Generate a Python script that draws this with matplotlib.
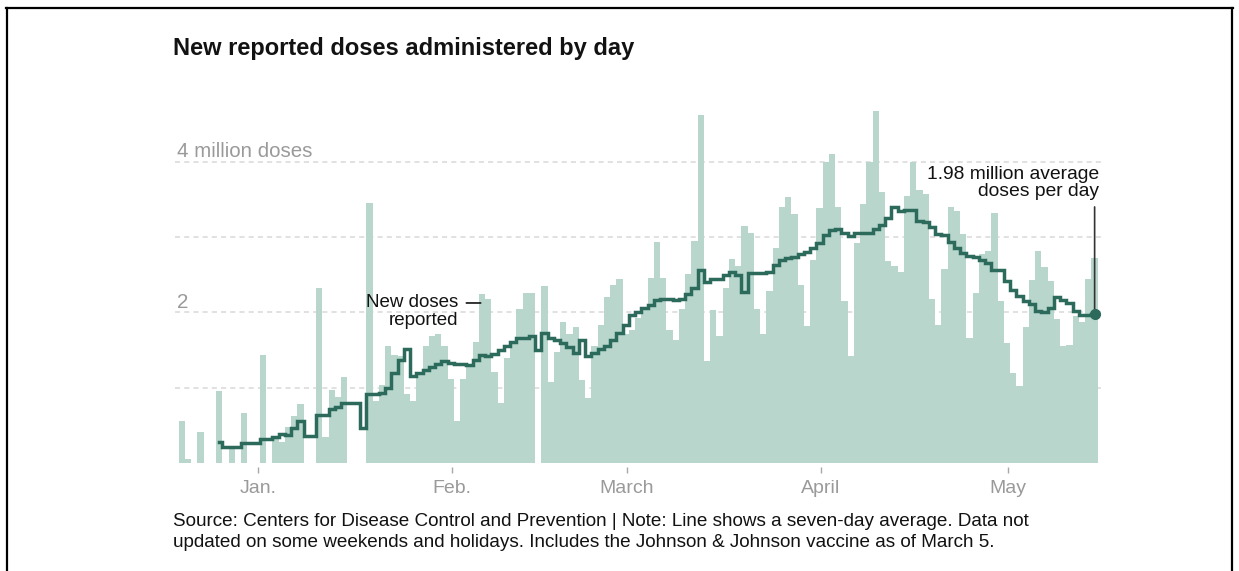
import datetime as dt
import matplotlib
matplotlib.use("Agg")
import matplotlib.pyplot as plt
import matplotlib.dates as mdates
from matplotlib.lines import Line2D

plt.rcParams['font.family'] = ['Liberation Sans', 'DejaVu Sans']

# daily reported doses, millions, starting Dec. 19, 2020
start = dt.date(2020, 12, 19)
doses = [
    0.56, 0.05, 0, 0.41, 0, 0, 0.95, 0, 0.19, 0,
    0.67, 0, 0, 1.44, 0, 0.35, 0.28, 0.48, 0.62, 0.78,
    0, 0, 2.32, 0.35, 0.97, 0.88, 1.14, 0, 0, 0,
    3.45, 0.82, 1.03, 1.56, 1.44, 1.42, 0.91, 0.82, 1.20, 1.55,
    1.68, 1.71, 1.56, 1.12, 0.56, 1.12, 1.30, 1.61, 2.24, 2.18,
    1.21, 0.80, 1.40, 1.62, 2.04, 2.26, 2.26, 0, 2.35, 1.08,
    1.48, 1.87, 1.71, 1.80, 1.10, 0.86, 1.55, 1.83, 2.20, 2.37,
    2.45, 1.71, 1.77, 1.93, 2.04, 2.46, 2.93, 2.46, 1.76, 1.63,
    2.05, 2.51, 2.95, 4.62, 1.36, 2.03, 1.68, 2.32, 2.71, 2.62,
    3.15, 3.06, 2.05, 1.71, 2.28, 2.85, 3.40, 3.53, 3.31, 2.37,
    1.82, 2.69, 3.38, 4.00, 4.11, 3.40, 2.15, 1.42, 2.92, 3.44,
    4.00, 4.68, 3.60, 2.68, 2.62, 2.54, 3.55, 4.00, 3.63, 3.57,
    2.18, 1.83, 2.57, 3.40, 3.34, 3.04, 1.66, 2.26, 2.77, 2.82,
    3.32, 2.15, 1.60, 1.20, 1.02, 1.80, 2.43, 2.82, 2.60, 2.42,
    1.91, 1.55, 1.57, 1.95, 1.87, 2.44, 2.72,
]

# seven-day average, millions, starting Dec. 25, 2020
avg_start = dt.date(2020, 12, 25)
avg = [
    0.28, 0.21, 0.21, 0.21,
    0.27, 0.27, 0.27, 0.32, 0.32, 0.35, 0.39, 0.37, 0.46, 0.56,
    0.36, 0.36, 0.64, 0.64, 0.72, 0.75, 0.80, 0.80, 0.80, 0.46,
    0.92, 0.91, 0.93, 0.99, 1.19, 1.37, 1.51, 1.15, 1.19, 1.24,
    1.27, 1.31, 1.35, 1.33, 1.32, 1.31, 1.30, 1.37, 1.44, 1.42,
    1.45, 1.50, 1.56, 1.61, 1.66, 1.66, 1.68, 1.50, 1.73, 1.66,
    1.63, 1.60, 1.54, 1.46, 1.63, 1.42, 1.46, 1.52, 1.55, 1.64,
    1.73, 1.83, 1.96, 2.01, 2.06, 2.10, 2.16, 2.18, 2.18, 2.16,
    2.18, 2.25, 2.32, 2.56, 2.40, 2.44, 2.45, 2.49, 2.53, 2.49,
    2.27, 2.52, 2.52, 2.52, 2.53, 2.63, 2.69, 2.72, 2.73, 2.77,
    2.80, 2.85, 2.92, 3.03, 3.09, 3.11, 3.06, 3.02, 3.05, 3.05,
    3.05, 3.11, 3.16, 3.25, 3.40, 3.34, 3.36, 3.36, 3.22, 3.20,
    3.13, 3.04, 3.03, 2.94, 2.85, 2.79, 2.75, 2.73, 2.70, 2.66,
    2.56, 2.56, 2.42, 2.30, 2.22, 2.15, 2.11, 2.02, 2.00, 2.06,
    2.20, 2.17, 2.12, 2.02, 1.96, 1.96, 1.98,
]

month_ticks = [dt.date(2021, 1, 1), dt.date(2021, 2, 1), dt.date(2021, 3, 1),
               dt.date(2021, 4, 1), dt.date(2021, 5, 1)]
month_labels = ["Jan.", "Feb.", "March", "April", "May"]
grid_values = [1, 2, 3, 4]

bar_color = "#b8d6cc"
line_color = "#2c6a5b"
text_color = "#121212"
grey = "#9a9a9a"

W, H = 1239, 571
fig = plt.figure(figsize=(W / 100, H / 100), dpi=100)
ax = fig.add_axes([175 / W, 108 / H, 926 / W, 368 / H])

days = mdates.date2num([start + dt.timedelta(days=i) for i in range(len(doses))])
avg_days = mdates.date2num([avg_start + dt.timedelta(days=i) for i in range(len(avg))]) + 0.5

for v in grid_values:
    ax.axhline(v, color="#dedede", lw=1.3, dashes=(2.8, 2.3), zorder=0)

ax.bar(days, doses, width=1, align="edge", color=bar_color,
       linewidth=0, antialiased=False, zorder=2)
ax.step(avg_days, avg, where="mid", color=line_color, lw=2.5, zorder=3,
        solid_joinstyle="miter")
ax.plot(avg_days[-1], avg[-1], "o", color=line_color, ms=7, zorder=4)

ax.set_xlim(days[0] - 0.59, days[0] + 147.52)
ax.set_ylim(0, 4.887)

for s in ax.spines.values():
    s.set_visible(False)
ax.spines["bottom"].set_position(("outward", 3))
ax.set_yticks([])
ax.set_xticks(mdates.date2num(month_ticks) - 0.3)
ax.set_xticklabels(month_labels)
ax.tick_params(axis="x", length=4.5, width=1, color="#a8a8a8",
               labelcolor=grey, labelsize=14, pad=5)

ax.annotate("4 million doses", xy=(0, 4), xycoords=("axes fraction", "data"),
            xytext=(1.5, 3.2), textcoords="offset points", ha="left",
            va="baseline", color=grey, fontsize=14.8)
ax.annotate("2", xy=(0, 2), xycoords=("axes fraction", "data"),
            xytext=(1.5, 3.4), textcoords="offset points", ha="left",
            va="baseline", color=grey, fontsize=14.8)

# "New doses reported" label pointing at a bar
ax.annotate("New doses", xy=(days[48] + 0.3, 2.125), xytext=(-16.3, 0),
            textcoords="offset points", ha="right", va="center",
            color=text_color, fontsize=13.5,
            arrowprops=dict(arrowstyle="-", color=text_color, lw=1.2,
                            shrinkA=4, shrinkB=0, relpos=(1, 0.5)))
ax.annotate("reported", xy=(days[48] + 0.3, 2.125), xytext=(-16.3, -12.8),
            textcoords="offset points", ha="right", va="center",
            color=text_color, fontsize=13.5)

# latest average label
ax.annotate("", xy=(avg_days[-1], avg[-1]), xytext=(0, 77),
            textcoords="offset points",
            arrowprops=dict(arrowstyle="-", color="#333333", lw=1.2,
                            shrinkA=0, shrinkB=0))
ax.annotate("1.98 million average\ndoses per day", xy=(avg_days[-1], avg[-1]),
            xytext=(3.2, 94.5), textcoords="offset points", ha="right",
            va="center", multialignment="right", linespacing=0.98,
            color=text_color, fontsize=13.9)

fig.text(173 / W, 1 - 48 / H, "New reported doses administered by day",
         ha="left", va="center", fontsize=17, fontweight="bold", color=text_color)
fig.text(173 / W, 1 - 532 / H,
         "Source: Centers for Disease Control and Prevention | Note: Line shows a seven-day average. Data not\n"
         "updated on some weekends and holidays. Includes the Johnson & Johnson vaccine as of March 5.",
         ha="left", va="center", linespacing=1.28, fontsize=13.6, color=text_color)

# screenshot frame
fig.add_artist(Line2D([6 / W, 1233 / W], [1 - 8 / H, 1 - 8 / H], color="black", lw=1.6))
fig.add_artist(Line2D([7 / W, 7 / W], [0, 1 - 8 / H], color="black", lw=1.6))
fig.add_artist(Line2D([1232 / W, 1232 / W], [0, 1 - 8 / H], color="black", lw=1.6))

fig.savefig("out.png", dpi=100)
